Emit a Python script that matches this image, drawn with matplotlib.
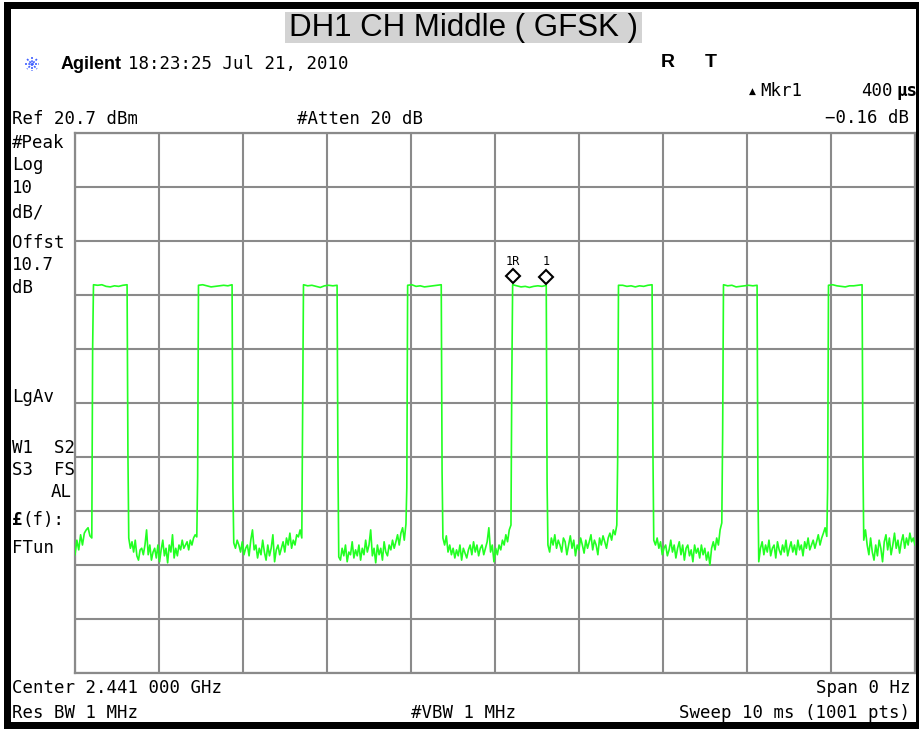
import numpy as np
import matplotlib
matplotlib.use("Agg")
import matplotlib.pyplot as plt
from matplotlib.patches import Rectangle
import matplotlib.transforms as mtransforms

W, H = 919, 729

# ---------------- data ----------------
ref_level_dbm = 20.7
db_per_div = 10
n_div_y = 10
sweep_ms = 10.0
sample_ms = 0.01

rise_ms = [0.22, 1.47, 2.72, 3.96, 5.21, 6.47, 7.72, 8.97]
fall_ms = [0.62, 1.87, 3.12, 4.36, 5.61, 6.87, 8.12, 9.37]
rise_mid_dbm = [-19.1, -43.0, -30.0, -45.0, -25.0, -40.0, -35.0, -45.0]
fall_mid_dbm = [-38.6, -45.0, -40.0, -42.0, -44.0, -38.0, -45.0, -40.0]

pulse_top_dbm = [
    [-7.4, -7.5, -7.4, -7.7, -7.8, -7.6, -7.7, -7.5, -7.4],
    [-7.5, -7.4, -7.6, -7.8, -7.7, -7.6, -7.5, -7.6, -7.4],
    [-7.4, -7.6, -7.5, -7.7, -7.9, -7.6, -7.5, -7.6, -7.5],
    [-7.5, -7.4, -7.7, -7.6, -7.8, -7.7, -7.6, -7.5, -7.4],
    [-7.4, -7.6, -7.8, -7.7, -7.9, -7.7, -7.6, -7.7, -7.5],
    [-7.5, -7.5, -7.7, -7.6, -7.8, -7.6, -7.7, -7.5, -7.4],
    [-7.4, -7.6, -7.5, -7.8, -7.7, -7.6, -7.5, -7.6, -7.5],
    [-7.5, -7.4, -7.6, -7.7, -7.8, -7.6, -7.6, -7.5, -7.4],
]

noise_gaps_dbm = [
    [-57.4, -54.7, -56.5, -53.7, -55.6, -53.4, -52.8, -52.4, -53.9, -54.3],
    [-54.3, -56.2, -55.0, -56.9, -54.7, -57.6, -58.4, -56.5, -56.2, -57.4, -55.6,
     -52.8, -57.4, -55.6, -58.4, -56.9, -56.2, -58.0, -55.6, -58.7, -56.5, -54.7,
     -57.6, -56.2, -58.9, -55.6, -56.9, -53.7, -58.0, -56.2, -57.6, -55.6, -56.5,
     -54.7, -56.2, -55.6, -55.0, -56.5, -54.7, -55.6, -54.3, -53.7, -54.1],
    [-55.2, -56.2, -54.7, -55.6, -56.9, -55.0, -57.4, -56.2, -55.6, -57.6, -54.7,
     -52.8, -56.5, -55.6, -58.0, -56.2, -57.4, -54.7, -56.9, -58.4, -55.6, -57.6,
     -56.2, -53.7, -58.7, -56.5, -55.6, -57.4, -56.2, -55.0, -56.9, -54.3, -55.6,
     -53.4, -56.2, -54.7, -55.6, -53.7, -54.1, -52.8, -54.3],
    [-57.8, -58.4, -56.2, -57.6, -55.6, -58.7, -56.9, -57.4, -55.0, -58.0, -56.5,
     -57.6, -55.6, -58.4, -56.2, -57.4, -54.7, -56.9, -55.6, -52.8, -57.6, -56.2,
     -58.9, -55.6, -57.4, -56.2, -58.4, -55.0, -56.9, -57.6, -55.6, -56.5, -54.7,
     -56.2, -55.0, -53.7, -55.6, -53.4, -52.4, -54.7, -51.7],
    [-54.3, -55.6, -53.9, -56.9, -55.6, -57.4, -56.2, -58.0, -56.5, -57.6, -55.6,
     -58.4, -56.2, -57.1, -58.0, -56.5, -55.6, -57.4, -55.0, -56.9, -55.6, -57.6,
     -56.2, -55.6, -57.4, -56.2, -55.0, -52.4, -56.9, -55.6, -58.7, -56.2, -57.4,
     -55.6, -56.5, -54.7, -55.6, -53.7, -55.0, -52.8, -51.9],
    [-55.6, -56.9, -54.3, -55.6, -53.7, -56.2, -54.7, -55.6, -56.9, -54.3, -55.0,
     -57.4, -55.6, -53.9, -56.2, -54.7, -57.6, -55.6, -56.5, -54.3, -55.6, -57.1,
     -54.7, -56.2, -55.0, -53.7, -56.5, -54.7, -55.6, -57.4, -54.3, -55.6, -53.9,
     -55.0, -56.2, -54.3, -53.4, -54.7, -52.8, -53.7, -51.9],
    [-54.7, -55.6, -54.3, -56.2, -55.0, -57.4, -56.2, -55.6, -57.6, -56.5, -54.7,
     -56.9, -55.6, -58.0, -56.2, -55.0, -57.4, -55.6, -58.4, -56.2, -55.6, -57.6,
     -56.5, -58.7, -55.6, -57.1, -56.2, -58.0, -55.6, -57.4, -56.2, -58.4, -56.9,
     -59.3, -56.2, -55.0, -56.5, -54.3, -55.6, -52.8, -51.5],
    [-58.7, -56.2, -55.0, -57.4, -55.6, -56.9, -54.7, -57.6, -56.2, -55.6, -58.0,
     -55.0, -56.5, -57.4, -55.6, -56.9, -54.7, -57.6, -56.2, -55.0, -56.9, -55.6,
     -57.4, -54.7, -56.5, -55.6, -57.6, -55.0, -56.2, -54.3, -56.5, -55.6, -54.7,
     -56.2, -55.0, -53.7, -55.6, -54.3, -53.4, -52.4, -54.0],
    [-54.7, -52.8, -55.6, -57.4, -54.3, -56.9, -58.4, -55.6, -57.6, -54.7, -56.2,
     -58.7, -55.0, -53.7, -56.5, -54.3, -57.4, -55.6, -53.4, -56.2, -54.7, -57.1,
     -55.0, -53.7, -56.2, -54.3, -55.6, -53.4, -55.0, -54.3, -55.6],
]

marker_ref_ms = 5.21
marker_1_ms = 5.61

title_text = "DH1 CH Middle ( GFSK )"

# ---------------- build the trace ----------------
t_pts, v_pts = [], []
for g, noise in enumerate(noise_gaps_dbm):
    start = 0.0 if g == 0 else fall_ms[g - 1] + 2 * sample_ms
    end = rise_ms[g] - 2 * sample_ms if g < len(rise_ms) else sweep_ms
    t_pts.extend(np.linspace(start, end, len(noise)))
    v_pts.extend(noise)
    if g < len(rise_ms):
        t_pts.append(rise_ms[g] - sample_ms)
        v_pts.append(rise_mid_dbm[g])
        top = pulse_top_dbm[g]
        t_pts.extend(np.linspace(rise_ms[g], fall_ms[g], len(top)))
        v_pts.extend(top)
        t_pts.append(fall_ms[g] + sample_ms)
        v_pts.append(fall_mid_dbm[g])

# ---------------- figure ----------------
fig = plt.figure(figsize=(W / 100, H / 100), dpi=100)
fig.patch.set_facecolor("white")

def px_rect(x0, y0, x1, y1):
    return [x0 / W, 1 - y1 / H, (x1 - x0) / W, (y1 - y0) / H]

ax = fig.add_axes(px_rect(75, 133, 915, 673))
ax.plot(t_pts, v_pts, color="#22ff22", lw=1.2, zorder=3)
ax.set_xlim(0, sweep_ms)
ax.set_ylim(ref_level_dbm - db_per_div * n_div_y, ref_level_dbm)
ax.set_xticks(np.arange(0, sweep_ms + 0.5, 1.0))
ax.set_yticks(ref_level_dbm - db_per_div * np.arange(n_div_y + 1))
ax.tick_params(length=0, labelbottom=False, labelleft=False)
ax.grid(True, color="#8a8a8a", lw=1.5)
for s in ax.spines.values():
    s.set_color("#8a8a8a")
    s.set_linewidth(1.6)

# markers (diamonds drawn just above the trace)
top5 = pulse_top_dbm[4]
mk_vals = [top5[0], top5[-1]]
off = mtransforms.ScaledTranslation(0, 6 / 72, fig.dpi_scale_trans)
ax.plot([marker_ref_ms, marker_1_ms], mk_vals, ls="none", marker="D",
        ms=7, mfc="white", mec="black", mew=1.5, zorder=5,
        transform=ax.transData + off, clip_on=False)
off2 = mtransforms.ScaledTranslation(0, 17 / 72, fig.dpi_scale_trans)
mono = "DejaVu Sans Mono"
ax.text(marker_ref_ms, mk_vals[0], "1R", transform=ax.transData + off2,
        ha="center", va="center", fontsize=8.5, family=mono)
ax.text(marker_1_ms, mk_vals[1], "1", transform=ax.transData + off2,
        ha="center", va="center", fontsize=8.5, family=mono)

# ---------------- overlay (pixel coordinates) ----------------
ov = fig.add_axes([0, 0, 1, 1])
ov.set_xlim(0, W)
ov.set_ylim(H, 0)
ov.axis("off")
ov.patch.set_alpha(0)

# outer black frame
for (x0, y0, w, h) in [(4, 2, W - 4, 7), (4, 2, 7, H - 2), (916, 2, 3, H - 2), (4, 722, W - 4, 7)]:
    ov.add_patch(Rectangle((x0, y0), w, h, color="black", lw=0))

# title
ov.add_patch(Rectangle((285, 12), 357, 31, color="#d3d3d3", lw=0))
ov.text(463.5, 28, title_text, ha="center", va="center", fontsize=22.5,
        family="Liberation Sans", color="black")

# Agilent logo spark
cx, cy = 32, 64
for a in np.linspace(0, np.pi, 4, endpoint=False):
    ov.plot([cx - 7 * np.cos(a), cx + 7 * np.cos(a)],
            [cy - 7 * np.sin(a), cy + 7 * np.sin(a)],
            color="#4060ff", lw=1.2, ls=(0, (1.2, 0.8)))
ov.text(61, 64, "Agilent", ha="left", va="center", fontsize=13,
        family="Liberation Sans", weight="bold")
fs = 12.5
ov.text(128, 64, "18:23:25 Jul 21, 2010", ha="left", va="center", fontsize=fs, family=mono)
ov.text(668, 62, "R", ha="center", va="center", fontsize=14, family="Liberation Sans", weight="bold")
ov.text(711, 62, "T", ha="center", va="center", fontsize=14, family="Liberation Sans", weight="bold")
ov.text(752, 91, "\u25b2", ha="center", va="center", fontsize=6.5, family="DejaVu Sans")
ov.text(760, 91, "Mkr1", ha="left", va="center", fontsize=fs, family=mono)
ov.text(893, 91, "400", ha="right", va="center", fontsize=fs, family=mono)
ov.text(897, 91, "\u03bcs", ha="left", va="center", fontsize=fs, family="DejaVu Sans Mono", weight="bold")
ov.text(909, 118, "\u22120.16 dB", ha="right", va="center", fontsize=fs, family=mono)
ov.text(12, 119, "Ref 20.7 dBm", ha="left", va="center", fontsize=fs, family=mono)
ov.text(297, 119, "#Atten 20 dB", ha="left", va="center", fontsize=fs, family=mono)

left_labels = [("#Peak", 143), ("Log", 165), ("10", 188), ("dB/", 212), ("Offst", 243),
               ("10.7", 265), ("dB", 288), ("LgAv", 397), ("W1  S2", 448), ("S3  FS", 470),
               ("FTun", 548)]
for txt, yy in left_labels:
    ov.text(12, yy, txt, ha="left", va="center", fontsize=fs, family=mono)
ov.text(72, 492, "AL", ha="right", va="center", fontsize=fs, family=mono)
ov.text(12, 520, "\u00a3", ha="left", va="center", fontsize=fs, family=mono, weight="bold")
ov.text(22, 520, "(f):", ha="left", va="center", fontsize=fs, family=mono)

ov.text(12, 688, "Center 2.441 000 GHz", ha="left", va="center", fontsize=fs, family=mono)
ov.text(910, 688, "Span 0 Hz", ha="right", va="center", fontsize=fs, family=mono)
ov.text(12, 713, "Res BW 1 MHz", ha="left", va="center", fontsize=fs, family=mono)
ov.text(411, 713, "#VBW 1 MHz", ha="left", va="center", fontsize=fs, family=mono)
ov.text(910, 713, "Sweep 10 ms (1001 pts)", ha="right", va="center", fontsize=fs, family=mono)

fig.savefig("out.png", dpi=100, facecolor="white")
